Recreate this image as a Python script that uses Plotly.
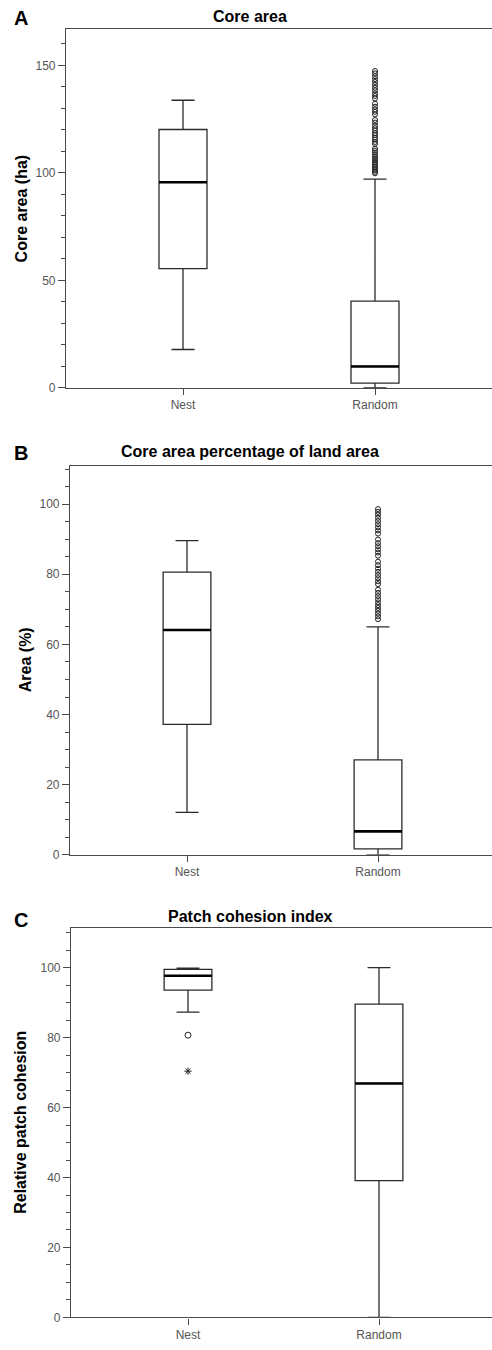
import plotly.graph_objects as go

categories = ["Nest", "Random"]

# Panel A: Core area (ha)
a_q1 = [55.5, 2.3]
a_median = [95.7, 10.0]
a_q3 = [120.2, 40.4]
a_low = [17.9, 0.0]
a_high = [133.8, 97.1]
a_out_random = [99.8, 100.5, 101.2, 102.0, 102.8, 103.5, 104.3, 105.1, 106.0, 106.8,
                107.7, 108.6, 109.5, 110.4, 111.3, 113.5, 114.4, 115.5, 116.4, 117.6,
                118.5, 119.7, 120.8, 122.0, 123.4, 124.6, 127.2, 128.4, 129.5, 130.8,
                132.2, 134.6, 135.8, 137.0, 138.4, 139.6, 140.9, 142.3, 143.6, 145.0,
                146.3, 147.4]

# Panel B: Core area percentage of land area
b_q1 = [37.2, 1.7]
b_median = [64.1, 6.7]
b_q3 = [80.6, 27.1]
b_low = [12.1, 0.0]
b_high = [89.6, 65.0]
b_out_random = [67.2, 68.0, 68.8, 69.6, 70.4, 71.2, 72.0, 72.9, 73.8, 74.7, 75.6,
                77.2, 78.0, 78.9, 79.8, 80.7, 81.6, 82.6, 83.6, 85.3, 86.2, 87.1,
                88.0, 88.9, 89.9, 91.6, 92.5, 93.4, 94.3, 95.2, 96.1, 97.0, 97.8, 98.6]

# Panel C: Patch cohesion index
c_q1 = [93.6, 39.1]
c_median = [97.7, 66.9]
c_q3 = [99.5, 89.6]
c_low = [87.3, 0.0]
c_high = [99.9, 100.0]
c_out_nest_circle = [80.7]
c_out_nest_star = [70.4]

W, H = 492, 1350
FONT = "Liberation Sans, Arial, sans-serif"
LINE = "#2b2b2b"
AXIS = "#4a4a4a"
TICKTXT = "#555555"
BOXW = 0.25

panels = [
    dict(q1=a_q1, med=a_median, q3=a_q3, lo=a_low, hi=a_high, top=29, bottom=390,
         left=66, spacing=192, nest_px=183, yrange=[0, 167], dtick=50, minor=10,
         title="Core area", letter="A", ytitle="Core area (ha)", ytx=21, ttl_y=17, let_y=18),
    dict(q1=b_q1, med=b_median, q3=b_q3, lo=b_low, hi=b_high, top=468, bottom=859.3,
         left=70, spacing=191, nest_px=187, yrange=[0, 111], dtick=20, minor=5,
         title="Core area percentage of land area", letter="B", ytitle="Area (%)", ytx=25,
         ttl_y=454, let_y=455),
    dict(q1=c_q1, med=c_median, q3=c_q3, lo=c_low, hi=c_high, top=933, bottom=1324.3,
         left=71, spacing=191, nest_px=188, yrange=[0, 111.3], dtick=20, minor=5,
         title="Patch cohesion index", letter="C", ytitle="Relative patch cohesion", ytx=21,
         ttl_y=921, let_y=925),
]

fig = go.Figure()
annotations = []
layout = {}
for i, p in enumerate(panels):
    n = "" if i == 0 else str(i + 1)
    xa, ya = "x" + n, "y" + n
    xs = list(range(len(categories)))
    fig.add_trace(go.Box(
        x=xs, q1=p["q1"], median=p["med"], q3=p["q3"],
        lowerfence=p["lo"], upperfence=p["hi"],
        width=BOXW, whiskerwidth=0.48, fillcolor="white",
        line=dict(color=LINE, width=1.3), boxpoints=False,
        xaxis=xa, yaxis=ya, showlegend=False, hoverinfo="skip"))
    for j, x in enumerate(xs):
        fig.add_trace(go.Scatter(
            x=[x - BOXW / 2, x + BOXW / 2], y=[p["med"][j], p["med"][j]],
            mode="lines", line=dict(color="black", width=2.6),
            xaxis=xa, yaxis=ya, showlegend=False, hoverinfo="skip"))
    left_units = (p["left"] - p["nest_px"]) / p["spacing"]
    right_units = (W - p["nest_px"]) / p["spacing"]
    layout["xaxis" + n] = dict(
        domain=[p["left"] / W, 1.0], range=[left_units, right_units], anchor=ya,
        tickmode="array", tickvals=xs, ticktext=categories,
        ticks="outside", ticklen=6, tickcolor=AXIS, tickwidth=1,
        showline=True, linecolor=AXIS, linewidth=1.2, mirror=True,
        showgrid=False, zeroline=False,
        tickfont=dict(family=FONT, size=12, color=TICKTXT))
    layout["yaxis" + n] = dict(
        domain=[1 - p["bottom"] / H, 1 - p["top"] / H], range=p["yrange"], anchor=xa,
        dtick=p["dtick"], tick0=0, ticks="outside", ticklen=7, tickcolor=AXIS, tickwidth=1,
        minor=dict(dtick=p["minor"], tick0=0, ticks="outside", ticklen=4, tickcolor=AXIS),
        showline=True, linecolor=AXIS, linewidth=1.2,
        showgrid=False, zeroline=False,
        tickfont=dict(family=FONT, size=12, color=TICKTXT))
    annotations.append(dict(text="<b>" + p["title"] + "</b>", x=250 / W, y=1 - p["ttl_y"] / H,
                            xref="paper", yref="paper", showarrow=False,
                            font=dict(family=FONT, size=16, color="black"),
                            xanchor="center", yanchor="middle"))
    annotations.append(dict(text="<b>" + p["letter"] + "</b>", x=21 / W, y=1 - p["let_y"] / H,
                            xref="paper", yref="paper", showarrow=False,
                            font=dict(family=FONT, size=20, color="black"),
                            xanchor="center", yanchor="middle"))
    annotations.append(dict(text="<b>" + p["ytitle"] + "</b>", x=p["ytx"] / W,
                            y=1 - (p["top"] + p["bottom"]) / 2 / H,
                            xref="paper", yref="paper", showarrow=False, textangle=-90,
                            font=dict(family=FONT, size=16, color="black"),
                            xanchor="center", yanchor="middle"))

# Outliers
fig.add_trace(go.Scatter(x=[1] * len(a_out_random), y=a_out_random, mode="markers",
                         marker=dict(symbol="circle-open", size=5, color="#222",
                                     line=dict(width=1)),
                         xaxis="x", yaxis="y", showlegend=False, hoverinfo="skip"))
fig.add_trace(go.Scatter(x=[1] * len(b_out_random), y=b_out_random, mode="markers",
                         marker=dict(symbol="circle-open", size=5, color="#222",
                                     line=dict(width=1)),
                         xaxis="x2", yaxis="y2", showlegend=False, hoverinfo="skip"))
fig.add_trace(go.Scatter(x=[0] * len(c_out_nest_circle), y=c_out_nest_circle, mode="markers",
                         marker=dict(symbol="circle-open", size=6, color="#222",
                                     line=dict(width=1)),
                         xaxis="x3", yaxis="y3", showlegend=False, hoverinfo="skip"))
fig.add_trace(go.Scatter(x=[0] * len(c_out_nest_star), y=c_out_nest_star, mode="markers",
                         marker=dict(symbol="asterisk-open", size=6, color="#222",
                                     line=dict(width=1, color="#222")),
                         xaxis="x3", yaxis="y3", showlegend=False, hoverinfo="skip"))

fig.update_layout(width=W, height=H, margin=dict(l=0, r=0, t=0, b=0),
                  paper_bgcolor="white", plot_bgcolor="white",
                  annotations=annotations, showlegend=False, **layout)

fig.write_html("out.html", config={"displayModeBar": False},
               post_script="document.body.style.margin='0';document.body.style.overflow='hidden';")
